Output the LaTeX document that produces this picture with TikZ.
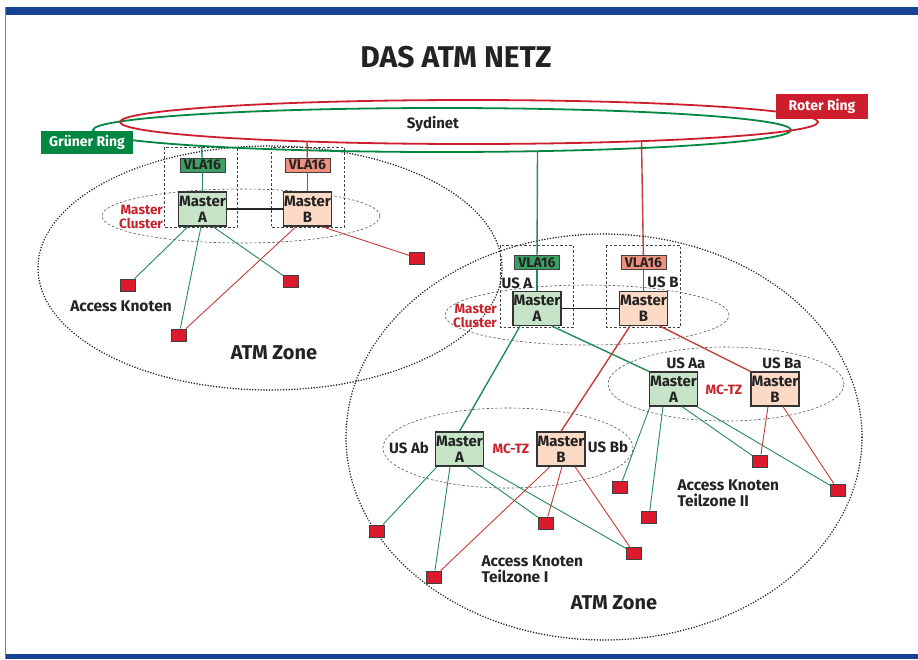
\documentclass[tikz,border=0pt]{standalone}
\usepackage{fontspec}
\setmainfont{Fira Sans}
\usepackage{tikz}
\usetikzlibrary{positioning}

\definecolor{ringgreen}{RGB}{0,135,65}
\definecolor{ringred}{RGB}{205,30,45}
\definecolor{linkgreen}{RGB}{35,140,90}
\definecolor{linkred}{RGB}{200,60,55}
\definecolor{mastgreen}{RGB}{200,228,200}
\definecolor{mastred}{RGB}{252,218,198}
\definecolor{vlagreen}{RGB}{60,160,100}
\definecolor{vlared}{RGB}{240,145,125}
\definecolor{knotred}{RGB}{220,25,45}
\definecolor{labelred}{RGB}{200,35,45}
\definecolor{frameblue}{RGB}{25,65,150}
\definecolor{textdark}{RGB}{35,35,35}

\begin{document}
\begin{tikzpicture}[x=1pt,y=-1pt,
  master/.style={draw=black!80,line width=1.3pt,minimum width=48pt,minimum height=34pt,
    inner sep=0pt,align=center,text=textdark,font=\bfseries\fontsize{15}{16}\selectfont},
  mastera/.style={master,fill=mastgreen},
  masterb/.style={master,fill=mastred},
  vla/.style={draw=black!75,line width=0.8pt,minimum width=45pt,minimum height=14pt,
    inner sep=0pt,text=textdark,font=\bfseries\fontsize{14}{14}\selectfont},
  knot/.style={draw=black!75,fill=knotred,line width=0.8pt,minimum width=15pt,
    minimum height=12pt,inner sep=0pt},
  ringbox/.style={minimum width=92pt,minimum height=23pt,inner sep=0pt,text=white,
    font=\bfseries\fontsize{14}{14}\selectfont},
  lbl/.style={text=textdark,font=\bfseries\fontsize{15}{15}\selectfont},
  redlbl/.style={text=labelred,font=\bfseries\fontsize{13.5}{14.5}\selectfont},
  bigzone/.style={black!85,line width=1.7pt,dash pattern=on 0pt off 2.8pt,line cap=round},
  cluster/.style={black!65,line width=0.6pt,dash pattern=on 2.5pt off 2pt},
  unitbox/.style={black!75,line width=0.7pt,dash pattern=on 2.5pt off 2pt},
  glink/.style={linkgreen,line width=0.9pt},
  rlink/.style={linkred,line width=0.9pt},
  gfeed/.style={linkgreen,line width=1.4pt},
  rfeed/.style={linkred,line width=1.4pt}]
 \useasboundingbox (0,0) rectangle (918,659);
 \fill[white] (0,0) rectangle (918,659);
 \fill[frameblue] (5,7) rectangle (918,15);
 \fill[frameblue] (5,654) rectangle (918,659);
 \draw[gray,line width=0.8pt] (5,7) -- (5,659);

 \node[text=textdark,font=\bfseries\fontsize{30}{32}\selectfont] (title) at (456,57) {DAS ATM NETZ};

 \draw[bigzone] (270,268) ellipse [x radius=232pt,y radius=122pt];
 \draw[bigzone] (604,437) ellipse [x radius=258pt,y radius=203pt];
 \draw[cluster] (241,216) ellipse [x radius=139pt,y radius=27pt];
 \draw[cluster] (587,315) ellipse [x radius=142pt,y radius=30pt];
 \draw[cluster] (726,384) ellipse [x radius=118pt,y radius=37pt];
 \draw[cluster] (508,448) ellipse [x radius=125pt,y radius=40pt];
 \draw[unitbox] (164,147) rectangle (237,227);
 \draw[unitbox] (271,147) rectangle (344,227);
 \draw[unitbox] (500,245) rectangle (573,327);
 \draw[unitbox] (606,245) rectangle (680,327);

 \draw[ringgreen,line width=1.8pt] (442,130) ellipse [x radius=349pt,y radius=22pt];
 \draw[ringred,line width=1.8pt] (469,122) ellipse [x radius=349pt,y radius=22pt];
 \node[text=textdark,font=\bfseries\fontsize{15}{16}\selectfont] (sydinet) at (433,124) {Sydinet};
 \node[ringbox,fill=ringgreen] (gruen) at (87,142.5) {Grüner Ring};
 \node[ringbox,fill=ringred,minimum height=25pt] (rot) at (822,106.5) {Roter Ring};
 \coordinate (gl) at (201.5,145.9);
 \coordinate (rl) at (307,141.5);
 \coordinate (gr) at (537.5,151.2);
 \coordinate (rr) at (641.5,141.1);

 % linke ATM Zone
 \node[mastera] (ma) at (202.5,209) {Master\\A};
 \node[masterb] (mb) at (307.5,209) {Master\\B};
 \node[vla,fill=vlagreen,above=19pt of ma] (va) {VLA16};
 \node[vla,fill=vlared,above=19pt of mb] (vb) {VLA16};
 \node[redlbl,align=right] (mcl) at (141,217) {Master\\Cluster};
 \node[knot] (k1) at (128,285) {};
 \node[knot] (k2) at (291,281) {};
 \node[knot] (k3) at (417,258) {};
 \node[knot] (k4) at (179,335) {};
 \node[text=textdark,font=\bfseries\fontsize{15.5}{17}\selectfont] (akl) at (121,306) {Access Knoten};
 \node[text=textdark,font=\bfseries\fontsize{20}{22}\selectfont] (zl) at (274,353) {ATM Zone};

 \draw[gfeed] (gl) -- (va);
 \draw[gfeed] (va) -- (ma);
 \draw[rfeed] (rl) -- (vb);
 \draw[rfeed] (vb) -- (mb);
 \draw[black!85,line width=1.4pt] (ma) -- (mb);
 \draw[glink] ([xshift=-14.5pt]ma.south) -- (k1);
 \draw[glink] ([xshift=-1.5pt]ma.south) -- (k4);
 \draw[glink] ([xshift=10.5pt]ma.south) -- (k2);
 \draw[rlink] ([xshift=-11.5pt]mb.south) -- (k4);
 \draw[rlink] ([xshift=14.5pt]mb.south) -- (k3);

 % rechte ATM Zone
 \node[mastera] (ra) at (537,308.5) {Master\\A};
 \node[masterb] (rb) at (643.5,308.5) {Master\\B};
 \node[vla,fill=vlagreen,above=21pt of ra] (wa) {VLA16};
 \node[vla,fill=vlared,above=21pt of rb] (wb) {VLA16};
 \node[lbl] (usa) at (517,283) {US A};
 \node[lbl] (usb) at (663,282) {US B};
 \node[redlbl,align=right] (mcr) at (475,316) {Master\\Cluster};

 \node[mastera] (aa) at (673.5,389) {Master\\A};
 \node[masterb] (ab) at (775,389) {Master\\B};
 \node[lbl] (usaa) at (686,363) {US Aa};
 \node[lbl] (usba) at (782,363) {US Ba};
 \node[redlbl] (mctz1) at (724,390) {MC-TZ};

 \node[mastera] (ba) at (459.5,449) {Master\\A};
 \node[masterb] (bb) at (561,449) {Master\\B};
 \node[lbl] (usab) at (409,448) {US Ab};
 \node[lbl] (usbb) at (608,447) {US Bb};
 \node[redlbl] (mctz2) at (511,449) {MC-TZ};

 \node[knot] (u1) at (620,487) {};
 \node[knot] (u2) at (649,517) {};
 \node[knot] (u3) at (760,461) {};
 \node[knot] (u4) at (838,490) {};
 \node[knot] (t1) at (377,531) {};
 \node[knot] (t2) at (434,577) {};
 \node[knot] (t3) at (546,523) {};
 \node[knot] (t4) at (634,553) {};
 \node[text=textdark,align=left,anchor=west,font=\bfseries\fontsize{15.5}{16}\selectfont] (ak2) at (674,493) {Access Knoten\\Teilzone II};
 \node[text=textdark,align=left,anchor=west,font=\bfseries\fontsize{15.5}{16}\selectfont] (ak1) at (478,569) {Access Knoten\\Teilzone I};
 \node[text=textdark,font=\bfseries\fontsize{20}{22}\selectfont] (zr) at (614,603) {ATM Zone};

 \draw[gfeed] (gr) -- (wa);
 \draw[gfeed] (wa) -- (ra);
 \draw[rfeed] (rr) -- (wb);
 \draw[rfeed] (wb) -- (rb);
 \draw[black!85,line width=1.4pt] (ra) -- (rb);
 \draw[gfeed] ([xshift=-17pt]ra.south) -- (ba.north);
 \draw[gfeed] ([xshift=15pt]ra.south) -- (aa.north west);
 \draw[rfeed] ([xshift=-13.5pt]rb.south) -- (bb.north);
 \draw[rfeed] ([xshift=16.5pt]rb.south) -- (ab.north west);

 \draw[glink] ([xshift=-23.5pt]aa.south) -- (u1);
 \draw[glink] ([xshift=-10.5pt]aa.south) -- (u2);
 \draw[glink] ([xshift=8.5pt]aa.south) -- (u3);
 \draw[glink] ([xshift=23.5pt]aa.south) -- (u4);
 \draw[rlink] ([xshift=-7pt]ab.south) -- (u3);
 \draw[rlink] ([xshift=8pt]ab.south) -- (u4);

 \draw[glink] ([xshift=-22.5pt]ba.south) -- (t1);
 \draw[glink] ([xshift=-9.5pt]ba.south) -- (t2);
 \draw[glink] ([xshift=7.5pt]ba.south) -- (t3);
 \draw[glink] ([xshift=23.5pt]ba.south) -- (t4);
 \draw[rlink] ([xshift=-11pt]bb.south) -- (t2);
 \draw[rlink] ([xshift=1pt]bb.south) -- (t3);
 \draw[rlink] ([xshift=14pt]bb.south) -- (t4);
\end{tikzpicture}
\end{document}
